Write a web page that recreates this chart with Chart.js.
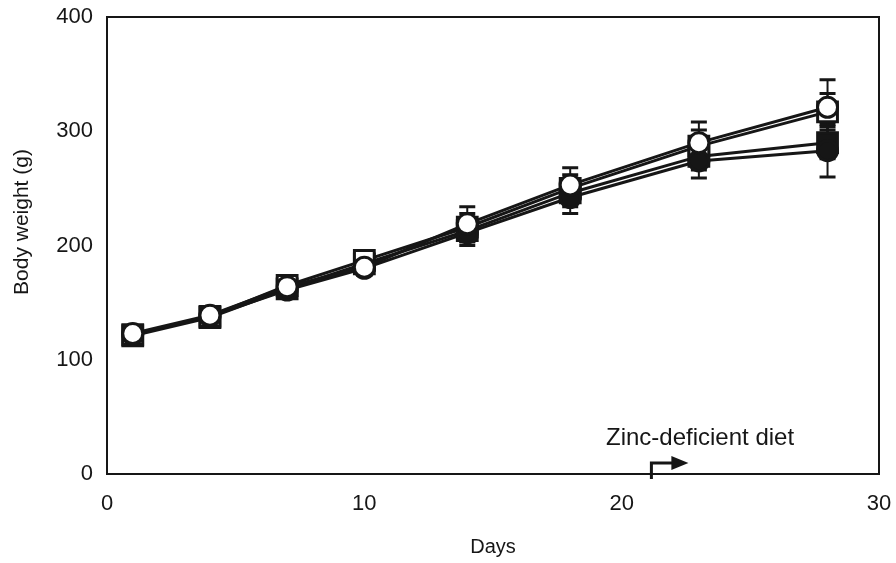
<!DOCTYPE html>
<html>
<head>
<meta charset="utf-8">
<script src="https://cdn.jsdelivr.net/npm/chart.js@4/dist/chart.umd.min.js"></script>
<style>
  html, body { margin: 0; padding: 0; background: #fff; }
  #wrap { width: 896px; height: 563px; }
</style>
</head>
<body>
<div id="wrap"><canvas id="bwChart" width="896" height="563"></canvas></div>
<script>
// days of measurement
const days = [1, 4, 7, 10, 14, 18, 23, 28];

// body weight (g) per group
const openCircle   = [123, 139, 164, 181, 219, 253, 290, 321];
const openSquare   = [122, 138, 165, 187, 216, 250, 287, 317];
const filledSquare = [121, 137, 162, 184, 213, 246, 278, 290];
const filledCircle = [122, 138, 161, 180, 211, 242, 274, 283];

// SD for error bars
const openCircleErr   = [4, 4, 5, 6, 15, 15, 18, 24];
const openSquareErr   = [4, 4, 5, 6, 12, 12, 14, 16];
const filledSquareErr = [4, 4, 5, 6, 10, 12, 12, 14];
const filledCircleErr = [4, 4, 5, 6, 11, 14, 15, 23];

const xTicks = [0, 10, 20, 30];
const yTicks = [0, 100, 200, 300, 400];

const ink = '#161616';
const font = 'Arial, "Liberation Sans", sans-serif';

function pts(vals) {
  return days.map((d, i) => ({ x: d, y: vals[i] }));
}

function noPad(s) {
  s.paddingLeft = 0; s.paddingRight = 0; s.paddingTop = 0; s.paddingBottom = 0;
}

// error bars, drawn under the lines/markers
const errorBars = {
  id: 'errorBars',
  beforeDatasetsDraw(chart) {
    const ctx = chart.ctx;
    const xs = chart.scales.x, ys = chart.scales.y;
    ctx.save();
    ctx.strokeStyle = ink;
    chart.data.datasets.forEach(ds => {
      ds.data.forEach((p, i) => {
        const e = ds.errors[i];
        const px = xs.getPixelForValue(p.x);
        const top = ys.getPixelForValue(p.y + e);
        const bot = ys.getPixelForValue(p.y - e);
        ctx.lineWidth = 2;
        ctx.beginPath();
        ctx.moveTo(px, top); ctx.lineTo(px, bot);
        ctx.stroke();
        ctx.lineWidth = 3;
        ctx.beginPath();
        ctx.moveTo(px - 8, top); ctx.lineTo(px + 8, top);
        ctx.moveTo(px - 8, bot); ctx.lineTo(px + 8, bot);
        ctx.stroke();
      });
    });
    ctx.restore();
  }
};

// plot frame, y title and the "Zinc-deficient diet" arrow
const frameAndNote = {
  id: 'frameAndNote',
  afterDraw(chart) {
    const ctx = chart.ctx;
    const a = chart.chartArea;
    ctx.save();
    ctx.strokeStyle = ink;
    ctx.lineWidth = 2;
    ctx.strokeRect(a.left, a.top, a.right - a.left, a.bottom - a.top);

    const x0 = chart.scales.x.getPixelForValue(21) + 4;
    const yb = a.bottom;
    ctx.lineWidth = 3;
    ctx.beginPath();
    ctx.moveTo(x0, yb + 5);
    ctx.lineTo(x0, yb - 11);
    ctx.lineTo(x0 + 22, yb - 11);
    ctx.stroke();
    ctx.fillStyle = ink;
    ctx.beginPath();
    ctx.moveTo(x0 + 20, yb - 18);
    ctx.lineTo(x0 + 37, yb - 11);
    ctx.lineTo(x0 + 20, yb - 4);
    ctx.closePath();
    ctx.fill();

    ctx.font = '24px ' + font;
    ctx.textAlign = 'left';
    ctx.textBaseline = 'middle';
    ctx.fillText('Zinc-deficient diet', 606, 438);

    ctx.translate(22, 222);
    ctx.rotate(-Math.PI / 2);
    ctx.font = '21px ' + font;
    ctx.textAlign = 'center';
    ctx.fillText('Body weight (g)', 0, 0);
    ctx.restore();
  }
};

const base = {
  borderColor: ink,
  borderWidth: 3,
  pointBorderColor: ink,
  pointBorderWidth: 3,
  tension: 0
};

let ctx = document.getElementById('bwChart').getContext('2d');
let bwChart = new Chart(ctx, {
  type: 'line',
  data: {
    datasets: [
      Object.assign({}, base, { label: 'open circle', data: pts(openCircle), errors: openCircleErr,
        pointStyle: 'circle', pointRadius: 10, pointBackgroundColor: '#fff' }),
      Object.assign({}, base, { label: 'filled circle', data: pts(filledCircle), errors: filledCircleErr,
        pointStyle: 'circle', pointRadius: 10, pointBackgroundColor: ink }),
      Object.assign({}, base, { label: 'open square', data: pts(openSquare), errors: openSquareErr,
        pointStyle: 'rect', pointRadius: 14, pointBackgroundColor: '#fff' }),
      Object.assign({}, base, { label: 'filled square', data: pts(filledSquare), errors: filledSquareErr,
        pointStyle: 'rect', pointRadius: 14, pointBackgroundColor: ink })
    ]
  },
  options: {
    responsive: false,
    animation: false,
    events: [],
    layout: { padding: { left: 0, top: 17, right: 17, bottom: 0 } },
    plugins: { legend: { display: false }, tooltip: { enabled: false } },
    scales: {
      x: {
        type: 'linear', min: 0, max: 30,
        afterBuildTicks: s => { s.ticks = xTicks.map(v => ({ value: v })); },
        afterFit: s => { s.height = 89; noPad(s); },
        grid: { display: false, drawTicks: false },
        border: { display: false },
        ticks: { color: ink, font: { family: font, size: 22 }, padding: 17 },
        title: { display: true, text: 'Days', color: ink, font: { family: font, size: 20 }, padding: { top: 12 } }
      },
      y: {
        type: 'linear', min: 0, max: 400,
        afterBuildTicks: s => { s.ticks = yTicks.map(v => ({ value: v })); },
        afterFit: s => { s.width = 107; noPad(s); },
        grid: { display: false, drawTicks: false },
        border: { display: false },
        ticks: { color: ink, font: { family: font, size: 22 }, padding: 14 },
        title: { display: false }
      }
    }
  },
  plugins: [errorBars, frameAndNote]
});
</script>
</body>
</html>
